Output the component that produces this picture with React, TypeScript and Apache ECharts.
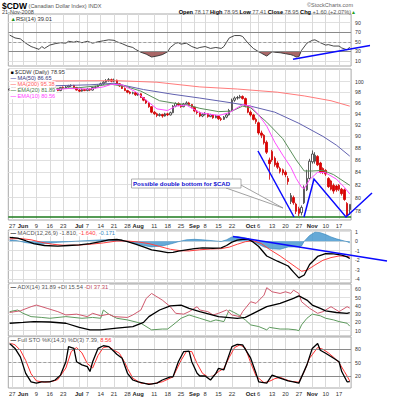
import React, { useEffect, useRef } from 'react';
import * as echarts from 'echarts';

const FONT = 'Liberation Sans, Arial, Helvetica, sans-serif';

// ---------- categories (trading days) ----------
const monthDays: [string, number[]][] = [
  ['May', [23, 27, 28, 29, 30]],
  ['Jun', [2, 3, 4, 5, 6, 9, 10, 11, 12, 13, 16, 17, 18, 19, 20, 23, 24, 25, 26, 27, 30]],
  ['Jul', [1, 2, 3, 7, 8, 9, 10, 11, 14, 15, 16, 17, 18, 21, 22, 23, 24, 25, 28, 29, 30, 31]],
  ['Aug', [1, 4, 5, 6, 7, 8, 11, 12, 13, 14, 15, 18, 19, 20, 21, 22, 25, 26, 27, 28, 29]],
  ['Sep', [2, 3, 4, 5, 8, 9, 10, 11, 12, 15, 16, 17, 18, 19, 22, 23, 24, 25, 26, 29, 30]],
  ['Oct', [1, 2, 3, 6, 7, 8, 9, 10, 13, 14, 15, 16, 17, 20, 21, 22, 23, 24, 27, 28, 29, 30, 31]],
  ['Nov', [3, 4, 5, 6, 7, 10, 11, 12, 13, 14, 17, 18, 19, 20, 21]],
];

// tick labels [category index, label]
const dateTicks: [number, string][] = [
  [1, '27'], [5, 'Jun'], [10, '9'], [15, '16'], [20, '23'], [26, 'Jul'], [29, '7'], [34, '14'],
  [39, '21'], [44, '28'], [48, 'Aug'], [54, '11'], [59, '18'], [64, '25'], [69, 'Sep'], [73, '8'],
  [78, '15'], [83, '22'], [90, 'Oct'], [93, '6'], [98, '13'], [103, '20'], [108, '27'],
  [113, 'Nov'], [118, '10'], [123, '17'],
];

// ---------- price candles [open, close, low, high] ----------
const ohlc: number[][] = [
  [98.4, 98.6, 98.3, 98.8], [98.6, 98.9, 98.5, 99.1], [98.9, 98.4, 98.3, 99.0], [98.4, 98.7, 98.3, 98.8],
  [98.7, 98.9, 98.6, 99.1], [98.9, 98.5, 98.4, 99.0], [98.5, 98.8, 98.4, 98.9], [98.8, 98.3, 98.2, 98.9],
  [98.3, 98.6, 98.2, 98.7], [98.6, 98.2, 98.0, 98.7], [98.2, 98.4, 98.1, 98.6], [98.4, 98.1, 98.0, 98.5],
  [98.1, 98.5, 98.0, 98.6], [98.5, 98.2, 98.1, 98.6], [98.2, 98.6, 98.1, 98.7], [98.6, 98.8, 98.5, 99.0],
  [98.8, 99.0, 98.7, 99.2], [99.0, 98.7, 98.6, 99.1], [98.7, 98.3, 98.2, 98.8], [98.3, 98.9, 98.2, 99.0],
  [98.9, 98.8, 98.6, 99.1], [98.8, 99.0, 98.7, 99.2], [99.0, 99.2, 98.9, 99.4], [99.2, 99.3, 99.0, 99.5],
  [99.3, 98.9, 98.8, 99.4], [98.9, 98.4, 98.3, 99.0], [98.4, 98.2, 98.0, 98.6], [98.2, 98.5, 98.1, 98.7],
  [98.5, 98.3, 98.2, 98.6], [98.3, 98.6, 98.2, 98.8], [98.6, 98.4, 98.2, 98.7], [98.4, 98.9, 98.3, 99.0],
  [98.9, 99.0, 98.7, 99.2], [99.0, 99.3, 98.9, 99.5], [99.3, 99.6, 99.2, 99.8], [99.6, 99.9, 99.4, 100.1],
  [99.9, 100.2, 99.8, 100.5], [100.2, 100.4, 100.0, 100.7], [100.4, 100.1, 99.9, 100.6], [100.1, 100.3, 99.9, 100.6],
  [100.3, 99.6, 99.5, 100.4], [99.6, 99.2, 99.0, 99.7], [99.2, 98.7, 98.6, 99.3], [98.7, 98.3, 98.2, 98.9],
  [98.3, 98.0, 97.8, 98.4], [98.0, 97.8, 97.6, 98.2], [97.8, 97.9, 97.6, 98.1], [97.9, 97.5, 97.3, 98.0],
  [97.5, 97.7, 97.3, 97.9], [97.7, 97.0, 96.9, 97.8], [97.0, 96.5, 96.3, 97.1], [96.5, 96.0, 95.8, 96.7],
  [96.0, 95.3, 95.1, 96.1], [95.3, 94.3, 94.1, 95.4], [94.3, 94.0, 93.8, 94.5], [94.0, 93.7, 93.4, 94.2],
  [93.7, 93.9, 93.5, 94.1], [93.9, 93.6, 93.3, 94.0], [93.6, 94.0, 93.5, 94.2], [94.0, 93.8, 93.6, 94.2],
  [93.8, 94.2, 93.7, 94.4], [94.2, 95.4, 94.1, 95.6], [95.4, 95.9, 95.2, 96.1], [95.9, 95.6, 95.4, 96.1],
  [95.6, 95.3, 95.1, 95.8], [95.3, 95.8, 95.2, 96.0], [95.8, 96.0, 95.6, 96.3], [96.0, 95.7, 95.5, 96.2],
  [95.7, 95.2, 95.0, 95.8], [95.2, 94.5, 94.3, 95.3], [94.5, 94.2, 93.9, 94.7], [94.2, 93.6, 93.4, 94.4],
  [93.6, 93.9, 93.4, 94.1], [93.9, 94.0, 93.7, 94.3], [94.0, 93.5, 93.3, 94.1], [93.5, 93.8, 93.4, 94.0],
  [93.8, 93.3, 93.1, 93.9], [93.3, 93.6, 93.2, 93.8], [93.6, 93.1, 92.9, 93.7], [93.1, 93.0, 92.7, 93.4],
  [93.0, 93.4, 92.9, 93.6], [93.4, 93.8, 93.2, 94.0], [93.8, 94.6, 93.7, 94.9], [94.6, 96.5, 94.5, 96.8],
  [96.5, 96.9, 96.2, 97.2], [96.9, 97.0, 96.6, 97.3], [97.0, 97.2, 96.8, 97.5], [97.2, 96.8, 96.6, 97.4],
  [96.8, 95.4, 95.2, 97.0], [95.4, 94.3, 94.1, 95.6], [94.3, 93.8, 93.5, 94.6], [93.8, 93.0, 92.8, 94.0],
  [93.0, 92.6, 92.2, 93.3], [92.4, 90.6, 90.3, 92.6], [90.6, 90.2, 89.7, 91.0], [90.2, 88.9, 88.6, 90.4],
  [89.0, 87.3, 87.0, 89.3], [86.0, 85.4, 82.8, 86.4], [87.4, 86.0, 85.7, 87.7], [86.3, 85.2, 84.9, 86.6],
  [85.5, 84.8, 84.5, 85.8], [84.6, 84.1, 83.8, 84.9], [84.4, 83.9, 83.5, 84.6], [84.0, 83.6, 83.2, 84.3],
  [83.0, 82.5, 82.0, 83.4], [79.4, 80.3, 79.0, 80.7], [80.0, 79.2, 78.9, 80.3], [79.0, 77.9, 77.5, 79.2],
  [78.3, 77.6, 77.2, 78.6], [77.7, 78.5, 77.3, 78.8], [79.2, 81.6, 79.0, 81.9], [81.2, 83.0, 81.0, 84.4],
  [83.0, 85.8, 82.8, 86.2], [85.7, 87.0, 85.4, 87.6], [85.8, 86.8, 85.4, 87.3], [86.6, 85.2, 85.0, 86.8],
  [85.5, 84.0, 83.8, 85.7], [84.6, 84.0, 83.7, 84.8], [84.3, 83.7, 83.4, 84.5], [83.0, 81.7, 81.5, 83.2],
  [82.6, 81.3, 81.1, 82.8], [81.9, 81.0, 80.6, 82.2], [81.8, 81.2, 80.9, 82.0], [81.9, 81.3, 81.0, 82.1],
  [81.3, 80.6, 80.3, 81.5], [81.2, 79.7, 79.5, 81.4], [79.1, 77.35, 77.2, 79.3], [78.17, 78.95, 77.41, 78.95],
];

// ---------- moving averages [day index, value] ----------
const ma200: [number, number][] = [[0, 100.1], [20, 100.15], [40, 100.2], [55, 99.9], [71, 99.0], [85, 98.6], [100, 98.0], [110, 97.3], [120, 96.4], [127, 95.4]];
const ma50: [number, number][] = [[0, 99.1], [15, 99.2], [30, 99.4], [39, 99.7], [50, 98.5], [61, 97.6], [71, 96.9], [83, 96.0], [90, 95.4], [99, 94.3], [108, 92.3], [117, 90.0], [122, 88.5], [127, 86.65]];
const ema20: [number, number][] = [[0, 98.6], [15, 98.7], [25, 98.8], [38, 99.5], [44, 99.0], [49, 98.2], [56, 96.4], [62, 95.9], [66, 95.7], [71, 95.0], [78, 94.4], [83, 94.5], [87, 95.4], [90, 95.1], [96, 92.5], [102, 89.6], [107, 86.0], [110, 84.2], [113, 84.2], [117, 84.3], [121, 83.6], [127, 81.9]];
const ema10: [number, number][] = [[0, 98.5], [15, 98.4], [22, 98.7], [30, 98.6], [35, 99.0], [38, 99.5], [42, 99.4], [47, 98.1], [51, 96.5], [55, 94.9], [59, 94.6], [62, 95.4], [66, 95.6], [71, 94.2], [78, 93.7], [82, 94.2], [87, 95.7], [90, 95.4], [93, 93.8], [96, 91.8], [99, 89.0], [102, 86.8], [105, 84.8], [107, 83.0], [109, 81.6], [110, 81.4], [112, 82.8], [115, 84.0], [118, 83.9], [122, 82.9], [125, 81.6], [127, 80.56]];

// ---------- RSI ----------
const rsiPts: [number, number][] = [[0, 64], [2, 58], [4, 56], [6, 47], [8, 40], [9, 38], [11, 34], [12, 40], [13, 36], [15, 43], [17, 46], [19, 48], [21, 47], [22, 51], [24, 49], [25, 51], [27, 48], [29, 51], [31, 47], [33, 50], [35, 52], [37, 54], [39, 53], [40, 50], [42, 46], [44, 41], [46, 38], [47, 34], [48, 31], [49, 28], [51, 24], [53, 18], [55, 20], [57, 23], [59, 29], [60, 38], [62, 47], [63, 48], [64, 45], [66, 47], [68, 40], [70, 36], [71, 38], [73, 40], [75, 36], [77, 38], [79, 36], [80, 40], [82, 58], [84, 63], [86, 63], [87, 61], [89, 47], [91, 36], [93, 29], [94, 26], [96, 20], [98, 29], [99, 28], [101, 27], [103, 25], [105, 23], [106, 21], [107, 18], [108, 19], [109, 32], [111, 47], [113, 53], [114, 54], [116, 48], [118, 43], [119, 44], [121, 41], [123, 41], [124, 37], [126, 33], [127, 39]];

// ---------- MACD ----------
const macdPts: [number, number][] = [[0, 0.40], [3, 0.32], [6, 0.05], [9, -0.25], [13, -0.45], [18, -0.52], [22, -0.45], [26, -0.38], [30, -0.25], [34, -0.05], [37, 0.15], [40, 0.18], [42, 0.10], [44, -0.05], [47, -0.30], [50, -0.60], [53, -0.90], [56, -1.05], [59, -1.20], [61, -1.18], [63, -1.05], [66, -0.90], [69, -0.78], [72, -0.70], [76, -0.74], [79, -0.70], [81, -0.45], [83, -0.10], [85, 0.12], [87, 0.20], [89, 0.22], [91, -0.10], [93, -0.55], [96, -1.55], [100, -2.10], [104, -2.60], [106, -3.25], [108, -3.85], [110, -3.55], [112, -2.45], [115, -1.60], [118, -1.30], [121, -1.33], [124, -1.45], [126, -1.64], [127, -1.81]];
const signalPts: [number, number][] = [[0, 0.25], [4, 0.28], [8, 0.15], [12, -0.12], [16, -0.32], [20, -0.42], [25, -0.42], [30, -0.32], [35, -0.18], [40, 0.02], [44, 0.02], [48, -0.08], [52, -0.25], [56, -0.55], [60, -0.85], [64, -1.0], [67, -1.02], [71, -0.90], [75, -0.82], [79, -0.78], [82, -0.62], [85, -0.32], [88, -0.05], [91, 0.05], [94, -0.25], [97, -0.85], [101, -1.55], [104, -2.15], [107, -2.75], [109, -3.15], [111, -3.05], [114, -2.50], [117, -2.00], [120, -1.72], [123, -1.55], [125, -1.58], [127, -1.64]];
const histPts: [number, number][] = [[0, 0.15], [3, 0.05], [6, -0.15], [10, -0.3], [14, -0.25], [18, -0.12], [22, -0.05], [26, 0.02], [30, 0.08], [34, 0.14], [38, 0.16], [41, 0.1], [44, -0.05], [47, -0.25], [50, -0.45], [53, -0.6], [57, -0.5], [60, -0.3], [63, -0.05], [66, 0.15], [69, 0.2], [72, 0.15], [76, 0.05], [79, -0.03], [81, 0.15], [83, 0.45], [85, 0.5], [88, 0.35], [90, 0.2], [92, -0.2], [95, -0.6], [98, -0.8], [101, -0.85], [104, -0.6], [107, -0.6], [109, -0.5], [110, 0.0], [112, 0.6], [114, 0.95], [116, 0.9], [118, 0.7], [120, 0.45], [122, 0.25], [124, 0.1], [126, -0.05], [127, -0.17]];

// ---------- ADX ----------
const adxPts: [number, number][] = [[0, 19], [5, 20], [9, 21], [15, 20.5], [21, 19], [26, 14], [30, 11], [34, 11], [40, 13], [46, 15], [50, 20], [52, 27], [56, 35], [60, 40], [64, 41], [67, 37], [71, 33], [78, 27], [85, 25], [88, 26], [91, 31], [96, 39], [101, 43], [106, 49], [108, 52], [111, 47], [113, 41], [116, 37], [118, 34], [122, 32], [126, 31], [127, 31.9]];
const pdiPts: [number, number][] = [[0, 33], [3, 35], [5, 31], [8, 27], [12, 26], [15, 25], [21, 27], [27, 25], [31, 26], [34, 25], [35, 35], [37, 30], [40, 25], [44, 23], [49, 19], [53, 11], [57, 12], [59, 12], [61, 17], [64, 25], [67, 29], [71, 25], [75, 21], [77, 23], [80, 21], [82, 35], [85, 30], [88, 23], [90, 17], [93, 15], [96, 11], [97, 14], [101, 12], [104, 12], [107, 11], [108, 10], [109, 17], [111, 25], [113, 30], [116, 28], [118, 25], [121, 23], [123, 21], [126, 19], [127, 15.5]];
const mdiPts: [number, number][] = [[0, 32], [4, 34], [8, 39], [10, 41], [14, 37], [18, 33], [21, 29], [25, 30], [29, 27], [31, 31], [34, 28], [37, 30], [39, 27], [44, 26], [46, 29], [49, 35], [51, 49], [53, 55], [55, 51], [57, 47], [60, 39], [62, 31], [65, 30], [67, 33], [70, 39], [71, 35], [74, 33], [76, 29], [78, 31], [81, 35], [83, 29], [86, 27], [87, 33], [90, 45], [92, 43], [95, 53], [96, 62], [98, 57], [101, 55], [103, 57], [105, 55], [106, 59], [108, 55], [109, 45], [112, 37], [115, 31], [117, 33], [120, 39], [121, 37], [123, 33], [124, 35], [126, 39], [127, 37.3]];

// ---------- Full STO ----------
const stoKPts: [number, number][] = [[0, 93], [2, 82], [4, 63], [6, 26], [8, 7], [10, 4], [12, 7], [15, 7], [17, 11], [19, 22], [21, 52], [22, 86], [24, 82], [25, 52], [27, 45], [29, 41], [30, 30], [31, 52], [33, 82], [35, 88], [37, 86], [39, 75], [40, 69], [42, 60], [44, 26], [46, 11], [48, 7], [50, 4], [52, 1], [55, 4], [57, 11], [60, 18], [61, 18], [63, 52], [65, 75], [67, 76], [68, 52], [70, 26], [71, 20], [73, 20], [75, 11], [77, 26], [78, 37], [80, 34], [83, 86], [85, 91], [87, 90], [90, 60], [92, 26], [93, 7], [96, 4], [98, 22], [101, 15], [104, 9], [106, 7], [108, 4], [111, 45], [113, 82], [115, 93], [116, 78], [118, 71], [121, 60], [123, 52], [124, 30], [126, 7], [127, 7.4]];
const stoDPts: [number, number][] = [[0, 95], [2, 90], [4, 78], [6, 55], [8, 25], [10, 9], [13, 6], [16, 8], [18, 12], [21, 38], [23, 75], [25, 84], [27, 72], [29, 48], [31, 38], [33, 66], [35, 84], [37, 86], [39, 78], [41, 71], [43, 50], [44, 37], [46, 15], [49, 4], [53, 2], [57, 7], [61, 18], [64, 55], [66, 75], [68, 75], [70, 48], [72, 26], [74, 18], [76, 20], [78, 30], [80, 37], [82, 62], [84, 84], [86, 90], [88, 83], [90, 50], [92, 20], [95, 5], [97, 8], [99, 14], [101, 17], [103, 12], [105, 8], [108, 6], [110, 30], [112, 60], [115, 84], [117, 80], [119, 72], [121, 62], [123, 50], [125, 30], [126, 20], [127, 8.6]];

// ---------- axis tick values ----------
const rsiTicks = [10, 30, 50, 70, 90];
const priceTicks = [78, 80, 82, 84, 86, 88, 90, 92, 94, 96, 98, 100];
const macdTicks = [-4, -3, -2, -1, 0, 1];
const adxTicks = [10, 20, 30, 40, 50, 60];
const stoTicks = [20, 50, 80];

// ---------- layout ----------
const GL = 8.3;
const GR = 48.9;
const P = {
  rsi: [14, 66],
  price: [69, 220],
  macd: [230, 283],
  adx: [284, 336],
  sto: [337, 388],
};

function fit(top: number, bottom: number, vA: number, yA: number, vB: number, yB: number) {
  const ppu = (yB - yA) / (vA - vB);
  return { min: vB - (bottom - yB) / ppu, max: vA + (yA - top) / ppu };
}

function buildOption() {
  const cats: string[] = [];
  monthDays.forEach(([m, ds]) => ds.forEach((d) => cats.push(m + ' ' + d)));
  const tickMap = new Map<number, string>(dateTicks);
  const months = new Set(['Jun', 'Jul', 'Aug', 'Sep', 'Oct', 'Nov']);
  const isTick = (i: number) => tickMap.has(i);

  const ranges = [
    fit(P.rsi[0], P.rsi[1], 70, 32.2, 30, 51.3),
    fit(P.price[0], P.price[1], Math.log(100), 81.7, Math.log(78), 210.7),
    fit(P.macd[0], P.macd[1], 1, 231.7, -4, 279.3),
    fit(P.adx[0], P.adx[1], 60, 289.3, 10, 330.7),
    fit(P.sto[0], P.sto[1], 80, 349.3, 20, 376),
  ];
  const tops = [P.rsi, P.price, P.macd, P.adx, P.sto];

  const grid = tops.map(([t, b]) => ({
    left: GL, right: GR, top: t, height: b - t, show: true,
    borderColor: '#a8a8a8', borderWidth: 1, backgroundColor: '#fff',
  }));

  const xAxis = tops.map((_, gi) => ({
    type: 'category', gridIndex: gi, data: cats, boundaryGap: true,
    axisLine: { show: false }, axisTick: { show: false },
    splitLine: { show: true, interval: (i: number) => isTick(i), alignWithLabel: true, lineStyle: { color: '#dadada', width: 1 } },
    axisLabel: gi === 1 || gi === 4 ? {
      show: true, interval: (i: number) => isTick(i), margin: 3,
      formatter: (_v: string, i: number) => {
        const t = tickMap.get(i) || '';
        return months.has(t) ? '{m|' + t + '}' : '{d|' + t + '}';
      },
      rich: {
        m: { fontSize: 5.8, fontWeight: 'bold', color: '#222', fontFamily: FONT },
        d: { fontSize: 5.8, color: '#333', fontFamily: FONT },
      },
    } : { show: false },
  }));

  const ticksList = [rsiTicks, priceTicks.map(Math.log), macdTicks, adxTicks, stoTicks];
  const yAxis = tops.map((_, gi) => ({
    type: 'value', gridIndex: gi, position: 'right', min: ranges[gi].min, max: ranges[gi].max,
    axisLine: { show: false },
    axisTick: { show: false, customValues: ticksList[gi] },
    axisLabel: {
      customValues: ticksList[gi], fontSize: 5.2, color: '#333', margin: 4, fontFamily: FONT,
      formatter: gi === 1 ? (v: number) => String(Math.round(Math.exp(v))) : (v: number) => String(v),
    },
    splitLine: { show: true, lineStyle: { color: '#e0e0e0', width: 1 } },
  }));

  const lineS = (gi: number, data: number[][], color: string, width = 1, z = 4, extra: any = {}) => ({
    type: 'line', xAxisIndex: gi, yAxisIndex: gi, data, showSymbol: false, symbol: 'none',
    lineStyle: { color, width }, itemStyle: { color }, z, silent: true, animation: false, ...extra,
  });
  const ln = (pts: [number, number][]) => pts.map(([i, v]) => [i, Math.log(v)]);
  const refLines = (solid: number[], dashed: number[]) => ({
    silent: true, symbol: 'none', label: { show: false }, animation: false,
    data: [
      ...solid.map((v) => ({ yAxis: v, lineStyle: { color: '#8a8a8a', type: 'solid', width: 1 } })),
      ...dashed.map((v) => ({ yAxis: v, lineStyle: { color: '#a0a0a0', type: [3, 2], width: 1 } })),
    ],
  });

  const series: any[] = [
    // RSI
    lineS(0, rsiPts.map(([i, v]) => [i, Math.min(v, 30)]), '#9a4a4a', 0, 2, {
      areaStyle: { origin: 30, color: '#a05656', opacity: 0.9 },
    }),
    lineS(0, rsiPts, '#333', 0.9, 4, { markLine: refLines([70, 30], [50]) }),
    // price
    {
      type: 'candlestick', xAxisIndex: 1, yAxisIndex: 1, z: 3, animation: false, silent: true,
      data: ohlc.map((r) => r.map(Math.log)), barWidth: 2,
      itemStyle: { color: '#ffffff', color0: '#e00000', borderColor: '#333333', borderColor0: '#d00000', borderWidth: 0.8 },
    },
    lineS(1, ln(ma200), '#ff7b7b', 1, 4),
    lineS(1, ln(ma50), '#6262b0', 1, 4),
    lineS(1, ln(ema20), '#5b8f5b', 1, 4),
    lineS(1, ln(ema10), '#ff4dff', 1, 4),
    // MACD
    lineS(2, histPts, '#2a7fb8', 0.6, 2, { areaStyle: { origin: 0, color: '#4a9ad0', opacity: 0.85 } }),
    lineS(2, signalPts, '#ff4040', 1, 4),
    lineS(2, macdPts, '#000', 1.3, 5),
    // ADX
    lineS(3, pdiPts, '#5d9a5d', 1, 3),
    lineS(3, mdiPts, '#d05a6e', 1, 3),
    lineS(3, adxPts, '#000', 1.3, 5),
    // STO
    lineS(4, stoDPts, '#ff3030', 1, 3, { markLine: refLines([80, 20], [50]) }),
    lineS(4, stoKPts, '#000', 1.3, 5),
  ];

  const text = (x: number, y: number, t: string, rich: any, extra: any = {}) => ({
    type: 'text', x, y, z: 100, silent: true,
    style: { text: t, rich, align: 'left', verticalAlign: 'middle', font: '5.5px ' + FONT, fill: '#333', ...extra },
  });
  const f = (size: number, color: string, bold = false) => ({ fontSize: size, fill: color, fontFamily: FONT, fontWeight: bold ? 'bold' : 'normal' });

  const legendBg = { backgroundColor: '#fff', padding: [0, 1, 0, 1] };

  const graphic: any[] = [
    // header
    text(2, 5.5, '{t|$CDW} {s|(Canadian Dollar Index) INDX}', { t: f(8.5, '#000', true), s: f(5.5, '#555') }),
    text(2, 12.3, '{s|21-Nov-2008}', { s: f(5.5, '#444') }),
    text(356, 12.3, '{b|Open} {n|78.17} {b|High} {n|78.95} {b|Low} {n|77.41} {b|Close} {n|78.95} {b|Chg} {n|+1.60 (+2.07%)}{g|▲}',
      { b: f(5.6, '#000', true), n: f(5.6, '#555'), g: f(5, '#20a020') }, { align: 'right' }),
    text(353, 5.3, '{s|©StockCharts.com}', { s: f(5.5, '#666') }, { align: 'right' }),
    // RSI legend
    text(9.5, 18.5, '{g|▲}{t|RSI(14) 39.01}', { g: f(5.5, '#209020'), t: f(5.8, '#333') }, legendBg),
    // price legend
    text(9.5, 71.7, '{k|■} {t|$CDW (Daily) 78.95}', { k: f(5, '#000'), t: f(5.6, '#333') }, legendBg),
    text(9.5, 78, '{l|—} {t|MA(50) 86.65}', { l: f(5.6, '#6262b0', true), t: f(5.6, '#33337a') }, legendBg),
    text(9.5, 84.2, '{l|—} {t|MA(200) 95.38}', { l: f(5.6, '#ff7b7b', true), t: f(5.6, '#ff5a5a') }, legendBg),
    text(9.5, 90.2, '{l|—} {t|EMA(20) 81.89}', { l: f(5.6, '#5b8f5b', true), t: f(5.6, '#4a7a4a') }, legendBg),
    text(9.5, 96.3, '{l|—} {t|EMA(10) 80.56}', { l: f(5.6, '#ff4dff', true), t: f(5.6, '#ff40ff') }, legendBg),
    // MACD legend
    text(9.5, 233.3, '{k|—} {g|MACD(12,26,9) -1.810,} {r|-1.640,} {b|-0.171}',
      { k: f(5.6, '#000', true), g: f(5.8, '#555'), r: f(5.8, '#ff4040'), b: f(5.8, '#3a8ac0') }, legendBg),
    // ADX legend
    text(9.5, 286.8, '{k|—} {g|ADX(14) 31.89 +DI 15.54} {r|-DI 37.31}',
      { k: f(5.6, '#000', true), g: f(5.8, '#555'), r: f(5.8, '#c04a5e') }, legendBg),
    // STO legend
    text(9.5, 340.2, '{k|—} {g|Full STO %K(14,3) %D(3) 7.39,} {r|8.56}',
      { k: f(5.6, '#000', true), g: f(5.8, '#555'), r: f(5.8, '#ff3030') }, legendBg),
    // support line
    { type: 'line', z: 90, silent: true, shape: { x1: GL, y1: 217, x2: 351.1, y2: 217 }, style: { stroke: '#1d7a1d', lineWidth: 1.5 } },
    // callout
    { type: 'polygon', z: 95, silent: true, shape: { points: [[226, 188], [240, 184.5], [283, 208]] }, style: { fill: '#fff', stroke: '#8a8a8a', lineWidth: 0.8 } },
    { type: 'rect', z: 96, silent: true, shape: { x: 131.5, y: 179, width: 109.5, height: 9 }, style: { fill: '#fff', stroke: '#9a9a9a', lineWidth: 0.8 } },
    text(133, 183.6, '{t|Possible double bottom for $CAD}', { t: f(6.1, '#1010d0', true) }),
    // blue trend lines
    { type: 'polyline', z: 98, silent: true, shape: { points: [[258, 151], [294, 217]] }, style: { stroke: '#0a0aff', lineWidth: 1.5, fill: 'none' } },
    { type: 'polyline', z: 98, silent: true, shape: { points: [[304, 217], [314, 179], [346, 217], [372, 193]] }, style: { stroke: '#0a0aff', lineWidth: 1.5, fill: 'none' } },
    { type: 'polyline', z: 98, silent: true, shape: { points: [[293, 59.3], [370, 45.5]] }, style: { stroke: '#0a0aff', lineWidth: 1.5, fill: 'none' } },
    { type: 'polyline', z: 98, silent: true, shape: { points: [[233, 236.5], [387, 261]] }, style: { stroke: '#0a0aff', lineWidth: 1.5, fill: 'none' } },
  ];

  return {
    animation: false,
    backgroundColor: '#fff',
    grid, xAxis, yAxis, series, graphic,
  };
}

export default function App() {
  const ref = useRef<HTMLDivElement>(null);
  useEffect(() => {
    const chart = echarts.init(ref.current!, null, { renderer: 'svg' });
    chart.setOption(buildOption() as any);
    return () => chart.dispose();
  }, []);
  return <div ref={ref} style={{ position: 'fixed', left: 0, top: 0, width: 400, height: 399 }} />;
}
